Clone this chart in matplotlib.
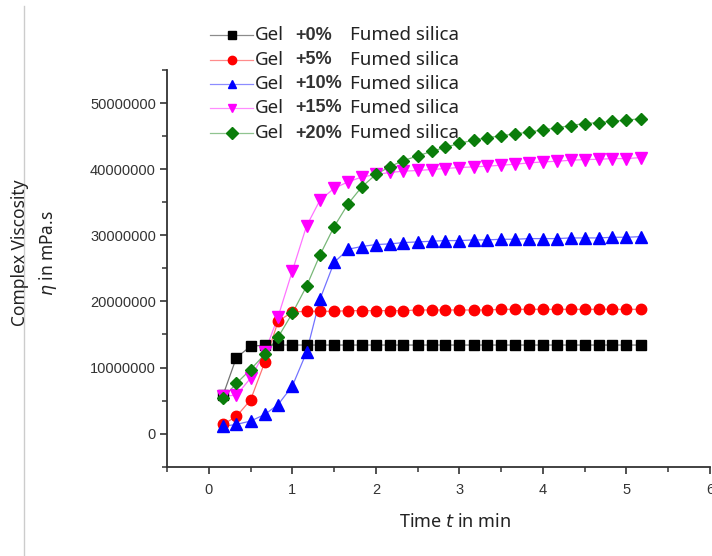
import numpy as np
import matplotlib
matplotlib.use("Agg")
import matplotlib.pyplot as plt
from matplotlib.lines import Line2D
from matplotlib.ticker import MultipleLocator


# time in min (one reading every 10 s)
time_min = [0.17, 0.33, 0.50, 0.67, 0.83, 1.00, 1.17, 1.33, 1.50, 1.67,
            1.83, 2.00, 2.17, 2.33, 2.50, 2.67, 2.83, 3.00, 3.17, 3.33,
            3.50, 3.67, 3.83, 4.00, 4.17, 4.33, 4.50, 4.67, 4.83, 5.00, 5.17]

# complex viscosity in units of 1e6 mPa.s
gel_0 = [5.8, 11.5, 13.2, 13.4, 13.4, 13.4, 13.4, 13.4, 13.4, 13.4,
         13.4, 13.4, 13.4, 13.4, 13.4, 13.4, 13.4, 13.4, 13.4, 13.4,
         13.4, 13.4, 13.4, 13.4, 13.4, 13.4, 13.4, 13.4, 13.4, 13.4, 13.4]
gel_5 = [1.4, 2.6, 5.1, 10.8, 17.0, 18.4, 18.5, 18.5, 18.5, 18.6,
         18.6, 18.6, 18.6, 18.6, 18.7, 18.7, 18.7, 18.7, 18.7, 18.7,
         18.8, 18.8, 18.8, 18.8, 18.8, 18.8, 18.8, 18.8, 18.8, 18.8, 18.8]
gel_10 = [1.1, 1.4, 1.9, 2.9, 4.4, 7.2, 12.3, 20.3, 25.9, 27.9,
          28.3, 28.6, 28.7, 28.9, 29.0, 29.1, 29.2, 29.2, 29.3, 29.3,
          29.4, 29.4, 29.5, 29.5, 29.5, 29.6, 29.6, 29.6, 29.7, 29.7, 29.8]
gel_15 = [5.7, 5.8, 8.4, 12.3, 17.7, 24.6, 31.4, 35.3, 37.1, 38.1,
          38.8, 39.2, 39.5, 39.7, 39.8, 39.95, 40.1, 40.25, 40.35, 40.45,
          40.6, 40.75, 40.95, 41.1, 41.2, 41.35, 41.45, 41.5, 41.6, 41.6, 41.75]
gel_20 = [5.4, 7.6, 9.7, 12.0, 14.6, 18.2, 22.3, 27.0, 31.3, 34.8,
          37.3, 39.2, 40.4, 41.3, 42.0, 42.7, 43.3, 43.9, 44.4, 44.75,
          45.05, 45.35, 45.6, 45.95, 46.25, 46.6, 46.9, 47.05, 47.25, 47.4, 47.65]

percent_labels = ["+0%", "+5%", "+10%", "+15%", "+20%"]
series = [gel_0, gel_5, gel_10, gel_15, gel_20]

colors = ["#000000", "#ff0000", "#0000ff", "#ff00ff", "#0a7d0a"]
markers = ["s", "o", "^", "v", "D"]
msizes = [7, 7.5, 8, 8, 6.5]

plt.rcParams["font.family"] = ["Liberation Sans", "DejaVu Sans"]

fig = plt.figure(figsize=(7.12, 5.56), dpi=100)
ax = fig.add_axes([0.2346, 0.1606, 0.7626, 0.7135])

t = np.array(time_min)
for vals, c, m, ms in zip(series, colors, markers, msizes):
    y = np.array(vals) * 1e6
    ax.plot(t, y, color=c, lw=0.9, alpha=0.55, zorder=2)
    ax.plot(t, y, ls="none", marker=m, ms=ms, color=c, mec=c, zorder=3)

ax.set_xlim(-0.5, 6.0)
ax.set_ylim(-5e6, 55e6)
ax.xaxis.set_minor_locator(MultipleLocator(0.5))
ax.yaxis.set_minor_locator(MultipleLocator(5e6))
ax.set_yticks([0, 1e7, 2e7, 3e7, 4e7, 5e7])
ax.set_yticklabels(["0", "10000000", "20000000", "30000000", "40000000", "50000000"])
ax.set_xticks([0, 1, 2, 3, 4, 5, 6])
ax.set_xticklabels(["0", "1", "2", "3", "4", "5", "6"])

for s in ["top", "right"]:
    ax.spines[s].set_visible(False)
for s in ["left", "bottom"]:
    ax.spines[s].set_color("#333333")
    ax.spines[s].set_linewidth(1.3)

ax.tick_params(which="major", direction="out", length=5, width=1.2,
               color="#333333", labelcolor="#333333", labelsize=10.5, pad=3)
ax.tick_params(which="minor", direction="out", length=3.5, width=1.1, color="#333333")
ax.tick_params(axis="x", pad=7)

lab_font = dict(family=["Noto Sans", "DejaVu Sans"], weight="light", color="#222222")
fig.text(0.028, 0.545, "Complex Viscosity", rotation=90, ha="center", va="center",
         fontsize=12.5, **lab_font)
fig.text(0.068, 0.545, r"$\eta$ in mPa.s", rotation=90, ha="center", va="center",
         fontsize=12.5, **lab_font)
fig.text(0.639, 0.061, r"Time $t$ in min", ha="center", va="center",
         fontsize=13, **lab_font)

# legend drawn by hand so the columns line up like the original
row_y = [35, 60, 84, 108, 133]
for i, (c, m, pct) in enumerate(zip(colors, markers, percent_labels)):
    yf = 1 - row_y[i] / 556
    fig.add_artist(Line2D([210 / 712, 253 / 712], [yf, yf], color=c, lw=0.9, alpha=0.45))
    fig.add_artist(Line2D([232 / 712], [yf], marker=m, ms=6, color=c, ls="none"))
    fig.text(255 / 712, yf, "Gel", ha="left", va="center", fontsize=13.5,
             family=["Noto Sans", "DejaVu Sans"], color="#222222")
    fig.text(295 / 712, yf, pct, ha="left", va="center", fontsize=13,
             family=["Liberation Sans", "DejaVu Sans"], weight="bold", color="#333333")
    fig.text(350 / 712, yf, "Fumed silica", ha="left", va="center", fontsize=13.5,
             family=["Noto Sans", "DejaVu Sans"], color="#222222")

# thin grey border line at the left edge of the screenshot
fig.add_artist(Line2D([24 / 712, 24 / 712], [0.0, 0.99], color="#cccccc", lw=1))

fig.savefig("out.png", dpi=100)
